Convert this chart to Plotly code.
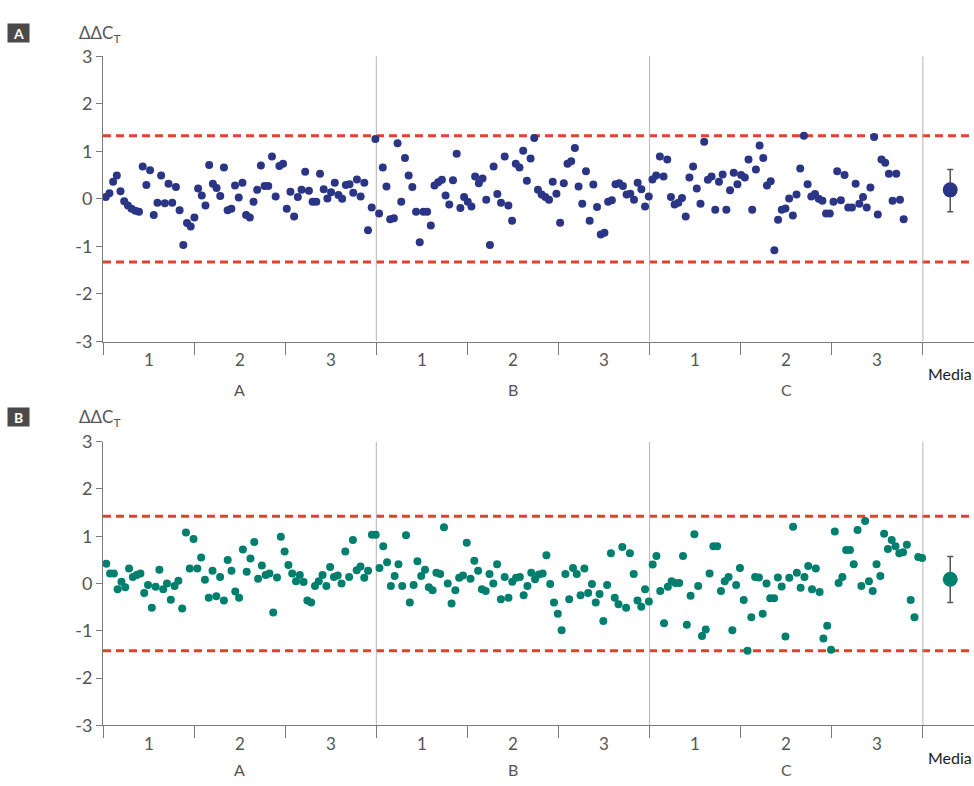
import plotly.graph_objects as go

# ---------------- data ----------------
subgroups = ["1", "2", "3"]
groups = ["A", "B", "C"]
media_label = "Media"

# Panel A (ΔΔCt), read left to right per group
panelA_A = [0.04,0.12,0.36,0.49,0.16,-0.05,-0.14,-0.21,-0.25,-0.27,
            0.68,0.29,0.60,-0.34,-0.08,0.49,-0.09,0.32,-0.08,0.25,
            -0.24,-0.97,-0.51,-0.58,-0.39,0.22,0.07,-0.14,0.71,0.32,
            0.23,0.06,0.66,-0.24,-0.21,0.28,0.03,0.34,-0.34,-0.39,
            -0.06,0.19,0.70,0.27,0.27,0.89,0.05,0.69,0.74,-0.21,
            0.15,-0.37,0.04,0.19,0.57,0.17,-0.06,-0.06,0.53,0.20,
            0.01,0.14,0.34,0.08,0.00,0.29,0.31,0.13,0.41,0.05,
            0.34,-0.66,-0.18,1.26,-0.31]
panelA_B = [0.66,0.26,-0.43,-0.41,1.17,-0.06,0.86,0.49,0.25,-0.27,
            -0.91,-0.27,-0.27,-0.56,0.28,0.35,0.40,0.07,-0.12,0.39,
            0.95,-0.19,0.04,-0.06,-0.16,0.47,0.33,0.43,-0.02,-0.97,
            0.68,0.10,-0.08,0.89,-0.14,-0.46,0.74,0.66,1.01,0.38,
            0.85,1.28,0.19,0.09,0.04,-0.02,0.36,0.11,-0.50,0.33,
            0.74,0.79,1.07,0.26,-0.10,0.58,-0.46,0.30,-0.17,-0.75,
            -0.71,-0.06,-0.03,0.31,0.33,0.27,0.09,0.11,-0.02,0.34,
            0.20,-0.16,0.05,0.41,0.49]
panelA_C = [0.89,0.47,0.83,0.04,-0.12,-0.08,0.02,-0.37,0.45,0.68,
            0.22,-0.10,1.20,0.40,0.47,-0.23,0.36,0.51,-0.23,0.18,
            0.55,0.31,0.50,0.45,0.83,-0.23,0.62,1.12,0.86,0.28,
            0.37,-1.08,-0.44,-0.23,-0.20,0.01,-0.35,0.09,0.64,1.33,
            0.31,0.05,0.10,0.00,-0.04,-0.31,-0.31,-0.06,0.58,-0.03,
            0.50,-0.18,-0.18,0.32,-0.10,0.04,-0.18,0.24,1.30,-0.33,
            0.83,0.76,0.53,-0.04,0.53,-0.02,-0.43]
panelA_media = 0.19
panelA_err_plus = 0.43
panelA_err_minus = 0.46
panelA_limit = 1.33

# Panel B (ΔΔCt)
panelB_A = [0.42,0.21,0.21,-0.12,0.04,-0.08,0.32,0.14,0.18,0.21,
            -0.20,-0.03,-0.51,-0.07,0.29,-0.12,0.00,-0.34,-0.05,0.06,
            -0.53,1.08,0.32,0.94,0.32,0.55,0.08,-0.30,0.27,-0.27,
            0.14,-0.36,0.50,0.27,-0.17,-0.30,0.72,0.25,0.53,0.88,
            0.10,0.38,0.18,0.21,-0.61,0.13,0.99,0.68,0.39,0.21,
            0.05,0.18,0.03,-0.36,-0.40,-0.05,0.05,0.18,-0.05,0.35,
            0.14,0.17,0.00,0.68,0.14,0.92,0.28,0.36,0.12,0.27,
            1.03,1.03]
panelB_B = [0.33,0.79,0.45,-0.05,0.16,0.41,-0.05,1.02,-0.40,-0.03,
            0.47,0.16,0.29,-0.08,-0.14,0.23,0.20,1.19,0.00,-0.42,
            -0.14,0.12,0.17,0.86,0.10,0.48,0.27,-0.12,-0.16,0.20,
            0.00,0.41,-0.33,0.14,-0.30,0.04,0.12,0.14,-0.25,-0.05,
            0.23,0.09,0.19,0.21,0.60,-0.01,-0.40,-0.64,-0.99,0.20,
            -0.33,0.33,0.20,-0.25,0.32,-0.20,-0.01,-0.40,-0.22,-0.79,
            -0.03,0.64,-0.30,-0.44,0.77,-0.51,0.64,0.20,-0.36,-0.49,
            -0.12,-0.38]
panelB_C = [0.40,0.58,-0.16,-0.84,-0.07,0.05,0.01,0.01,0.58,-0.87,
            -0.26,1.04,-0.05,-1.11,-0.97,0.21,0.79,0.79,-0.16,0.05,
            0.14,-0.99,-0.03,0.33,-0.35,-1.42,-0.71,0.14,0.13,-0.64,
            0.00,-0.31,-0.31,0.13,-0.06,-1.12,0.12,1.20,0.23,-0.09,
            0.14,0.37,-0.12,0.32,-0.18,-1.16,-0.89,-1.40,1.10,0.01,
            0.14,0.71,0.71,0.41,1.13,-0.05,1.32,0.05,-0.16,0.41,
            0.16,1.05,0.73,0.92,0.79,0.64,0.66,0.82,-0.35,-0.71,
            0.56,0.54]
panelB_media = 0.09
panelB_err_plus = 0.48
panelB_err_minus = 0.49
panelB_limit = 1.42

y_ticks = [-3, -2, -1, 0, 1, 2, 3]

# ---------------- styling ----------------
NAVY = "#2b3585"
TEAL = "#007f6e"
RED = "#e5402e"
GRID = "#b4b4b4"
AXIS = "#7a7a7a"
TXT = "#555555"
FONT = "Lato"

W, H = 974, 786
ML = 103
PW = W - ML
UNIT = 91.1             # pixels per subgroup
X_MAX = PW / UNIT
MEDIA_X = 9.3


def pxx(p):  # pixel x -> paper x
    return (p - ML) / PW


def pxy(p):  # pixel y -> paper y
    return 1 - p / H


def positions(n, x0, step):
    return [x0 + i * step for i in range(n)]


fig = go.Figure()

panels = [
    dict(vals=panelA_A + panelA_B + panelA_C, x0=0.030, step=0.04055,
         color=NAVY, media=panelA_media, ep=panelA_err_plus, em=panelA_err_minus,
         limit=panelA_limit, xa="x", ya="y", letter="A",
         top=45.5, bottom=339, box=11, dd_y=23, sub_y=358, grp_y=388, media_y=372),
    dict(vals=panelB_A + panelB_B + panelB_C, x0=0.036, step=0.04165,
         color=TEAL, media=panelB_media, ep=panelB_err_plus, em=panelB_err_minus,
         limit=panelB_limit, xa="x2", ya="y2", letter="B",
         top=442, bottom=734, box=406, dd_y=418, sub_y=753, grp_y=779, media_y=767),
]

annotations = []
shapes = []
for p in panels:
    xs = positions(len(p["vals"]), p["x0"], p["step"])
    fig.add_trace(go.Scatter(x=xs, y=p["vals"], mode="markers",
                             marker=dict(size=8, color=p["color"]),
                             xaxis=p["xa"], yaxis=p["ya"], showlegend=False,
                             hoverinfo="skip"))
    fig.add_trace(go.Scatter(x=[MEDIA_X], y=[p["media"]], mode="markers",
                             marker=dict(size=15, color=p["color"]),
                             error_y=dict(type="data", symmetric=False,
                                          array=[p["ep"]], arrayminus=[p["em"]],
                                          color="#555555", thickness=1.5, width=3),
                             xaxis=p["xa"], yaxis=p["ya"], showlegend=False,
                             hoverinfo="skip"))
    for lv in (p["limit"], -p["limit"]):
        shapes.append(dict(type="line", xref=p["xa"] + " domain", x0=0, x1=1,
                           yref=p["ya"], y0=lv, y1=lv,
                           line=dict(color=RED, width=3, dash="8px,5px"), layer="below"))
    for gx in (3, 6, 9):
        shapes.append(dict(type="line", xref=p["xa"], x0=gx, x1=gx,
                           yref=p["ya"], y0=-3, y1=3,
                           line=dict(color=GRID, width=1), layer="below"))
    annotations.append(dict(text="<b>%s</b>" % p["letter"], xref="paper", yref="paper",
                            x=pxx(7), y=pxy(p["box"]), xanchor="left", yanchor="top",
                            showarrow=False, bgcolor="#4a4a4a", width=19, height=16,
                            borderpad=1,
                            font=dict(family=FONT, size=14, color="white")))
    annotations.append(dict(text="ΔΔC<sub>T</sub>", xref="paper", yref="paper",
                            x=pxx(77), y=pxy(p["dd_y"]), xanchor="left",
                            yanchor="middle", showarrow=False,
                            font=dict(family=FONT, size=17, color=TXT)))
    for gi, g in enumerate(groups):
        for si, s in enumerate(subgroups):
            annotations.append(dict(text=s, xref=p["xa"], x=gi * 3 + si + 0.5,
                                    yref="paper", y=pxy(p["sub_y"]),
                                    yanchor="middle", showarrow=False,
                                    font=dict(family=FONT, size=17, color=TXT)))
        annotations.append(dict(text=g, xref=p["xa"], x=gi * 3 + 1.5,
                                yref="paper", y=pxy(p["grp_y"]),
                                yanchor="middle", showarrow=False,
                                font=dict(family=FONT, size=16, color=TXT)))
    annotations.append(dict(text=media_label, xref="paper", x=1.0,
                            xanchor="right", yref="paper",
                            y=pxy(p["media_y"]), yanchor="middle",
                            showarrow=False,
                            font=dict(family=FONT, size=16, color="#222222")))

xaxis_common = dict(range=[0, X_MAX], showgrid=False, zeroline=False,
                    showline=True, linecolor=AXIS, linewidth=1,
                    tickmode="array", tickvals=list(range(10)),
                    showticklabels=False, ticks="outside", ticklen=12,
                    tickcolor=AXIS, tickwidth=1, fixedrange=True)
yaxis_common = dict(range=[-3, 3], showgrid=False, zeroline=False,
                    showline=True, linecolor=AXIS, linewidth=1,
                    tickmode="array", tickvals=y_ticks,
                    ticktext=[str(v) for v in y_ticks],
                    ticks="outside", ticklen=6, tickcolor=AXIS,
                    tickfont=dict(family=FONT, size=18, color=TXT),
                    fixedrange=True)

fig.update_layout(
    width=W, height=H,
    margin=dict(l=ML, r=0, t=0, b=0),
    paper_bgcolor="white", plot_bgcolor="white",
    xaxis=dict(xaxis_common, anchor="y", domain=[0, 1]),
    yaxis=dict(yaxis_common, anchor="x", domain=[pxy(339), pxy(45.5)]),
    xaxis2=dict(xaxis_common, anchor="y2", domain=[0, 1]),
    yaxis2=dict(yaxis_common, anchor="x2", domain=[pxy(734), pxy(442)]),
    shapes=shapes, annotations=annotations,
    font=dict(family=FONT, color=TXT),
)

page_css = ("document.documentElement.style.margin='0';"
            "document.documentElement.style.overflow='hidden';"
            "document.body.style.margin='0';"
            "document.body.style.overflow='hidden';")

fig.write_html("out.html", post_script=page_css,
               config={"displayModeBar": False})
